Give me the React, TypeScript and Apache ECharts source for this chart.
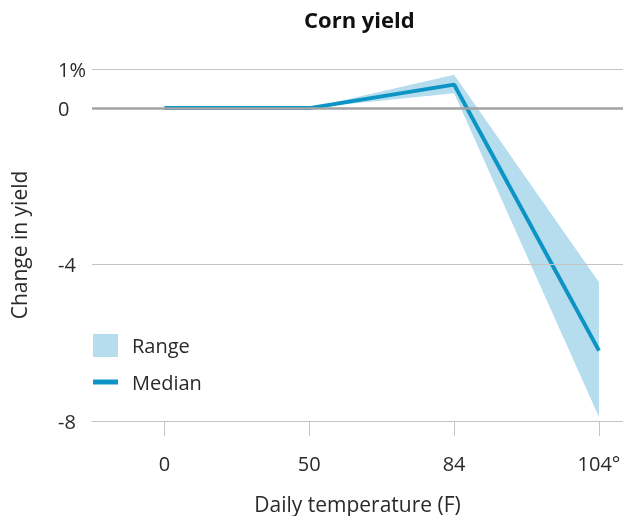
import React, { useEffect, useRef } from "react";
import * as echarts from "echarts";

const categories = ["0", "50", "84", "104°"];
const medianValues = [0, 0, 0.6, -6.2];
const rangeLow = [0, 0, 0.38, -7.9];
const rangeHigh = [0, 0, 0.85, -4.45];
const yTickValues = [1, 0, -4, -8];
const gridLineValues = [1, -4];

const FONT = "Open Sans";
const FS = 20;
const MEDIAN_COLOR = "#0c94c4";
const RANGE_COLOR = "#b6ddee";
const TEXT_COLOR = "#2a2a2a";

export default function App() {
  const ref = useRef<HTMLDivElement>(null);
  useEffect(() => {
    if (!ref.current) return;
    const chart = echarts.init(ref.current, undefined, { renderer: "svg" });
    const idx = categories.map((_, i) => i);
    const medData = idx.map((i) => [i, medianValues[i]]);
    chart.setOption({
      animation: false,
      title: {
        text: "Corn yield",
        left: 299,
        top: 3,
        textStyle: { fontFamily: FONT, fontSize: 22, fontWeight: "bold", color: "#111" },
      },
      grid: { left: 92, right: 0, top: 69, bottom: 95, containLabel: false, outerBoundsMode: "none" },
      legend: [
        {
          data: [{ name: "Range", icon: "rect" }],
          left: 93,
          top: 334,
          padding: 0,
          itemWidth: 25,
          itemHeight: 23,
          textStyle: { fontFamily: FONT, fontSize: FS, color: TEXT_COLOR, padding: [0, 0, 0, 9] },
          selectedMode: false,
        },
        {
          data: [{ name: "Median", icon: "rect" }],
          left: 93,
          top: 372,
          padding: 0,
          itemWidth: 25,
          itemHeight: 5,
          textStyle: { fontFamily: FONT, fontSize: FS, color: TEXT_COLOR, padding: [0, 0, 0, 9] },
          selectedMode: false,
        },
      ],
      xAxis: {
        type: "value",
        min: -0.5,
        max: 3.166,
        name: "Daily temperature (F)",
        nameLocation: "middle",
        nameGap: 72,
        nameTextStyle: { fontFamily: FONT, fontSize: 21, color: TEXT_COLOR },
        axisLine: { show: true, onZero: false, lineStyle: { color: "#c4c4c4", width: 1 } },
        axisTick: { show: true, length: 15, customValues: idx, lineStyle: { color: "#c4c4c4" } },
        axisLabel: {
          customValues: idx,
          margin: 32,
          fontFamily: FONT,
          fontSize: FS,
          color: TEXT_COLOR,
          formatter: (v: number) => categories[Math.round(v)] ?? "",
        },
        splitLine: { show: false },
      },
      yAxis: {
        type: "value",
        min: -8,
        max: 1,
        name: "Change in yield",
        nameLocation: "middle",
        nameRotate: 90,
        nameGap: 63,
        nameTextStyle: { fontFamily: FONT, fontSize: 21, color: TEXT_COLOR },
        axisLine: { show: false },
        axisTick: { show: false },
        splitLine: { show: false },
        axisLabel: {
          customValues: yTickValues,
          align: "left",
          margin: 34,
          fontFamily: FONT,
          fontSize: FS,
          color: TEXT_COLOR,
          formatter: (v: number) => (v === 1 ? "1%" : String(v)),
        },
      },
      series: [
        {
          name: "Range",
          type: "custom",
          data: idx.map((i) => [i, rangeLow[i], rangeHigh[i]]),
          itemStyle: { color: RANGE_COLOR },
          z: 1,
          silent: true,
          renderItem: (params: any, api: any) => {
            if (params.dataIndex !== 0) return null;
            const upper = idx.map((i) => api.coord([i, rangeHigh[i]]));
            const lower = idx.map((i) => api.coord([i, rangeLow[i]])).reverse();
            return {
              type: "polygon",
              shape: { points: [...upper, ...lower] },
              style: { fill: RANGE_COLOR },
            };
          },
          markLine: {
            silent: true,
            symbol: "none",
            label: { show: false },
            data: [
              ...gridLineValues.map((v) => ({ yAxis: v, lineStyle: { color: "#c4c4c4", width: 1, type: "solid" } })),
              { yAxis: 0, lineStyle: { color: "#a3a3a3", width: 2.5, type: "solid" } },
            ],
          },
        },
        {
          name: "Median",
          type: "line",
          data: medData,
          symbol: "none",
          itemStyle: { color: MEDIAN_COLOR },
          lineStyle: { color: MEDIAN_COLOR, width: 4 },
          z: 3,
          silent: true,
        },
      ],
    });
    return () => chart.dispose();
  }, []);
  return <div ref={ref} style={{ position: "fixed", left: 0, top: 0, width: 623, height: 516 }} />;
}
